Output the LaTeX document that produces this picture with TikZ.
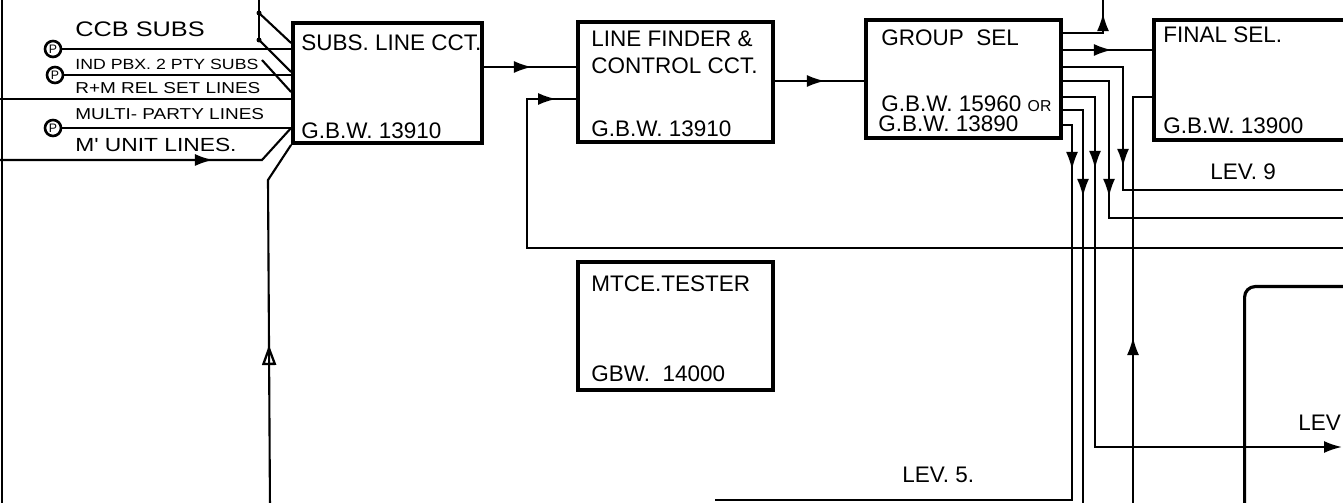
\documentclass[tikz,border=0pt]{standalone}
\usepackage{fontspec}
\setmainfont{Liberation Sans}
\newfontfamily\wirefont[FakeStretch=1.2]{Liberation Sans}
\usepackage{tikz}
\usetikzlibrary{arrows.meta,positioning,calc,decorations.markings}

\begin{document}
\begin{tikzpicture}[x=0.02cm, y=-0.02cm,
  blk/.style={draw, line width=2.2pt, inner sep=0pt},
  wire/.style={line width=1.2pt},
  lbl/.style={font=\fontsize{12.8}{14}\selectfont, inner sep=0pt, anchor=base west},
  linetag/.style={font=\wirefont\fontsize{#1}{#1}\selectfont, inner sep=0pt, anchor=base west},
  pcirc/.style={draw, circle, line width=1.5pt, minimum size=0.32cm, inner sep=0pt, font=\fontsize{7}{7}\selectfont},
  jdot/.style={circle, fill, inner sep=0pt, minimum size=0.1cm},
  arrat/.style={postaction={decorate}, decoration={markings,
      mark=at position #1 with {\arrow{Latex[length=0.36cm,width=0.24cm]}}}},
  openat/.style={postaction={decorate}, decoration={markings,
      mark=at position #1 with {\arrow{Triangle[open,length=0.4cm,width=0.28cm,line width=1.3pt]}}}}]
  \useasboundingbox (0,0) rectangle (1343,503);
  \clip (0,0) rectangle (1343,503);

  % ---- blocks ----
  \node[blk, minimum width=3.78cm, minimum height=2.4cm] (slc) at (387.5,83) {};
  \node[blk, minimum width=3.9cm, minimum height=2.4cm] (lf) at (675.5,82) {};
  \node[blk, minimum width=3.9cm, minimum height=2.36cm] (gs) at (963.5,79) {};
  \node[blk, minimum width=5cm, minimum height=2.4cm, anchor=north west] (fs) at (1152,18) {};
  \node[blk, minimum width=3.9cm, minimum height=2.56cm] (mt) at (675.5,326) {};
  \node[draw, line width=1.8pt, rounded corners=6pt, minimum width=6cm, minimum height=6cm,
        anchor=north west] (rb) at (1243,285) {};

  \node[lbl] (slcT) at ($(slc.north west)+(10,29)$) {SUBS. LINE CCT.};
  \node[lbl] (slcC) at ($(slc.south west)+(10,-6)$) {G.B.W. 13910};
  \node[lbl] (lfT) at ($(lf.north west)+(15,26)$) {LINE FINDER \&};
  \node[lbl] (lfT2) at ($(lf.north west)+(15,53)$) {CONTROL CCT.};
  \node[lbl] (lfC) at ($(lf.south west)+(15,-7)$) {G.B.W. 13910};
  \node[lbl] (gsT) at ($(gs.north west)+(17,27)$) {GROUP~~SEL};
  \node[lbl] (gsC) at ($(gs.south west)+(17,-28)$) {G.B.W. 15960 {\fontsize{9}{9}\selectfont OR}};
  \node[lbl] (gsC2) at ($(gs.south west)+(14,-8)$) {G.B.W. 13890};
  \node[lbl] (fsT) at ($(fs.north west)+(11,25)$) {FINAL SEL.};
  \node[lbl] (fsC) at ($(fs.south west)+(11,-8)$) {G.B.W. 13900};
  \node[lbl] (mtT) at ($(mt.north west)+(15,31)$) {MTCE.TESTER};
  \node[lbl] (mtC) at ($(mt.south west)+(15,-10)$) {GBW.~~14000};
  \node[lbl] (lev9) at (1210,180) {LEV. 9};
  \node[lbl] (lev5) at (902,482) {LEV. 5.};
  \node[lbl] (levR) at (1298,430) {LEV};

  % ---- subscriber lines ----
  \node[pcirc] (p1) at (53,49) {P};
  \node[pcirc] (p2) at (55,75) {P};
  \node[pcirc] (p3) at (53,128) {P};
  \node[linetag=12] (ccb) at (75,37) {CCB SUBS};
  \node[linetag=8.4] (ind) at (75,70) {IND PBX. 2 PTY SUBS};
  \node[linetag=9] (rm) at (75,94) {R+M REL SET LINES};
  \node[linetag=9] (mp) at (75,120) {MULTI- PARTY LINES};
  \node[linetag=10.8] (mu) at (75,152) {M' UNIT LINES.};

  \coordinate (rmL) at (0,99);
  \coordinate (muL) at (0,160);
  \draw[wire] (p1.east) -- (slc.west |- p1.east);
  \draw[wire] (p2.east) -- (slc.west |- p2.east);
  \draw[wire] (rmL) -- (slc.west |- rmL);
  \draw[wire] (p3.east) -- (slc.west |- p3.east);
  \draw[wire, arrat=4.26cm] (muL) -- (262,160) -- (slc.west |- p3.east);
  \draw[wire] (2,0) -- (2,503);

  % ---- feeds from above ----
  \coordinate (feed) at (259,-5);
  \node[jdot] (d1) at (259,13) {};
  \node[jdot] (d2) at (259,40) {};
  \draw[wire] (feed) -- (d2.center);
  \draw[wire] (d1.center) -- (slc.west |- 0,43);
  \draw[wire] (d2.center) -- (slc.west |- 0,72);
  \draw[wire] (262,60) -- (slc.west |- 0,92);

  % ---- return into line circuit ----
  \coordinate (upL) at (270,510);
  \draw[wire, openat=3.3cm] (upL) -- (268,180) -- (slc.south west);

  % ---- line finder ----
  \draw[wire, arrat=0.96cm] (slc.east |- 0,67) -- (lf.west |- 0,67);
  \draw[wire, arrat=1.0cm] (lf.east |- 0,81) -- (gs.west |- 0,81);
  \coordinate (fbR) at (1350,248);
  \draw[wire, arrat=-0.4cm] (fbR) -| (527,99) -- (lf.west |- 0,99);

  % ---- group selector outlets ----
  \coordinate (upR) at (1103,-5);
  \coordinate (lev9a) at (1350,190);
  \coordinate (lev9b) at (1350,218);
  \coordinate (lev7) at (1342,447);
  \coordinate (dn6) at (1083,510);
  \coordinate (lev5L) at (715,500);
  \coordinate (upF) at (1133,510);
  \draw[wire, arrat=1.2cm] (gs.east |- 0,33) -| (upR);
  \draw[wire, arrat=0.98cm] (gs.east |- 0,50) -- (fs.west |- 0,50);
  \draw[wire, arrat=3.2cm] (gs.east |- 0,67) -| (1123,190) -- (lev9a);
  \draw[wire, arrat=3.24cm] (gs.east |- 0,81) -| (1109,218) -- (lev9b);
  \draw[wire, arrat=2.08cm, -{Latex[length=0.36cm,width=0.24cm]}] (gs.east |- 0,97) -| (1095,447) -- (lev7);
  \draw[wire, arrat=2.14cm] (gs.east |- 0,110) -| (dn6);
  \draw[wire, arrat=1.08cm] (gs.east |- 0,125) -| (1072,500) -- (lev5L);
  \draw[wire, arrat=3.46cm] (upF) |- (fs.west |- 0,97);
\end{tikzpicture}
\end{document}
